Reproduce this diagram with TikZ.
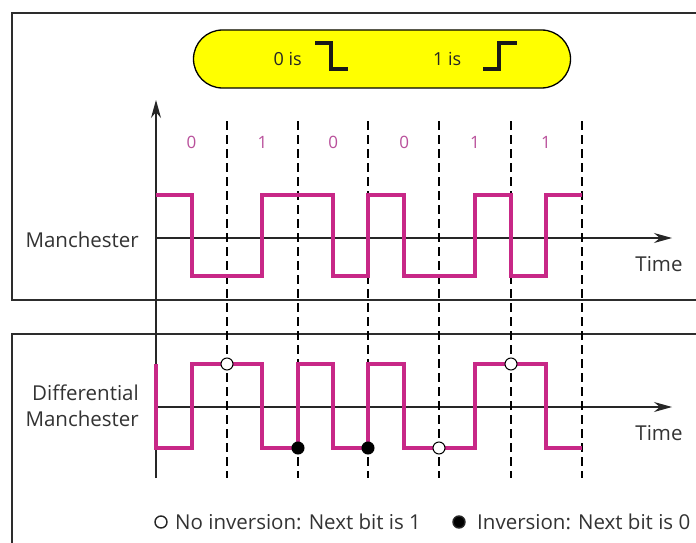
\documentclass[tikz,border=0pt]{standalone}
\usepackage{fontspec}
\setmainfont{Open Sans}
\usetikzlibrary{arrows.meta}
\definecolor{wave}{RGB}{200,40,135}
\definecolor{bitlbl}{RGB}{185,80,155}
\definecolor{frame}{RGB}{45,45,45}
\definecolor{pillfill}{RGB}{255,255,0}
\tikzset{
  panel/.style={draw=frame, line width=1.4pt},
  signal/.style={draw=wave, line width=3.6pt, line join=miter},
  axisline/.style={draw=black!85, line width=1.1pt},
  axisarrow/.style={axisline, -{Stealth[length=18pt, width=10pt]}},
  gridline/.style={draw=black, line width=1.1pt, dash pattern=on 9pt off 5pt},
  steppath/.style={draw=black!90, line width=3.6pt, line join=miter},
  lbl/.style={font=\fontsize{20.5}{24}\selectfont, text=black!80, inner sep=0pt},
  pilltxt/.style={font=\fontsize{18}{21}\selectfont, text=black!85, inner sep=0pt},
  bitnum/.style={font=\fontsize{17}{20}\selectfont, text=bitlbl, inner sep=0pt},
  hollow/.style={circle, draw=black, fill=white, line width=1pt, inner sep=0pt, minimum size=12pt},
  fulldot/.style={circle, draw=black, fill=black, line width=1pt, inner sep=0pt, minimum size=12pt},
  keymark/.style={circle, draw=black!85, line width=1.4pt, inner sep=0pt, minimum size=12pt},
}
\begin{document}
\begin{tikzpicture}[x=1pt, y=-1pt]
\useasboundingbox (0,0) rectangle (696,543);
\fill[white] (0,0) rectangle (696,543);

% panel frames (open towards the right edge)
\draw[panel] (696,13) -- (12,13) -- (12,300) -- (696,300);
\draw[panel] (696,334) -- (12,334) -- (12,543);

% legend pill for the encoding rule
\node[draw=black, line width=1.3pt, fill=pillfill, rounded corners=29pt,
      minimum width=377pt, minimum height=58pt] (rule) at (382,59) {};
\node[pilltxt, anchor=east] (zeroIs) at (302,59) {0 is};
\draw[steppath] (315,43) -- (331,43) -- (331,69) -- (348,69);
\node[pilltxt, anchor=west] (oneIs) at (433,59) {1 is};
\draw[steppath] (483,69) -- (499,69) -- (499,43) -- (517,43);

% axes
\coordinate (vBot) at (156,478);
\coordinate (vTop) at (156,100);
\coordinate (mStart) at (156,238);
\coordinate (mEnd) at (672,238);
\coordinate (dStart) at (156,407);
\coordinate (dEnd) at (672,407);
\draw[axisarrow] (vBot) -- (vTop);
\draw[axisarrow] (mStart) -- (mEnd);
\draw[axisarrow] (dStart) -- (dEnd);

% signal labels
\node[lbl, anchor=east] (manLbl) at (139,240) {Manchester};
\node[lbl, anchor=east, align=right, font=\fontsize{20.5}{26}\selectfont] (difLbl) at (139,406) {Differential\\Manchester};
\node[lbl] (timeA) at (659,264) {Time};
\node[lbl] (timeB) at (659,433) {Time};

% bit values
\foreach \b [count=\i from 0] in {0,1,0,0,1,1}
  \node[bitnum] (bit\i) at ({191.5+70.9*\i},142) {\b};

% bit boundaries
\foreach \x in {227,298,368,439,511,582}
  \draw[gridline] (\x,121) -- (\x,478);

% Manchester waveform
\draw[signal] (156,195) -- (192,195) -- (192,276) -- (262,276) -- (262,195)
  -- (333,195) -- (333,276) -- (368,276) -- (368,195) -- (404,195)
  -- (404,276) -- (475,276) -- (475,195) -- (511,195) -- (511,276)
  -- (546,276) -- (546,195) -- (582,195);

% Differential Manchester waveform
\draw[signal] (156,364) -- (156,448) -- (192,448) -- (192,364) -- (262,364)
  -- (262,448) -- (298,448) -- (298,364) -- (333,364) -- (333,448)
  -- (368,448) -- (368,364) -- (404,364) -- (404,448) -- (475,448)
  -- (475,364) -- (546,364) -- (546,448) -- (582,448);

% inversion markers
\node[hollow]  (m1) at (227,364) {};
\node[fulldot] (m2) at (298,448) {};
\node[fulldot] (m3) at (368,448) {};
\node[hollow]  (m4) at (439,448) {};
\node[hollow]  (m5) at (511,364) {};

% key
\node[keymark] (keyOpen) at (161,522) {};
\node[lbl, anchor=west] (keyOpenTxt) at (175,522) {No inversion: Next bit is 1};
\node[keymark, fill=black] (keyFull) at (459,522) {};
\node[lbl, anchor=west] (keyFullTxt) at (477,522) {Inversion: Next bit is 0};
\end{tikzpicture}
\end{document}
